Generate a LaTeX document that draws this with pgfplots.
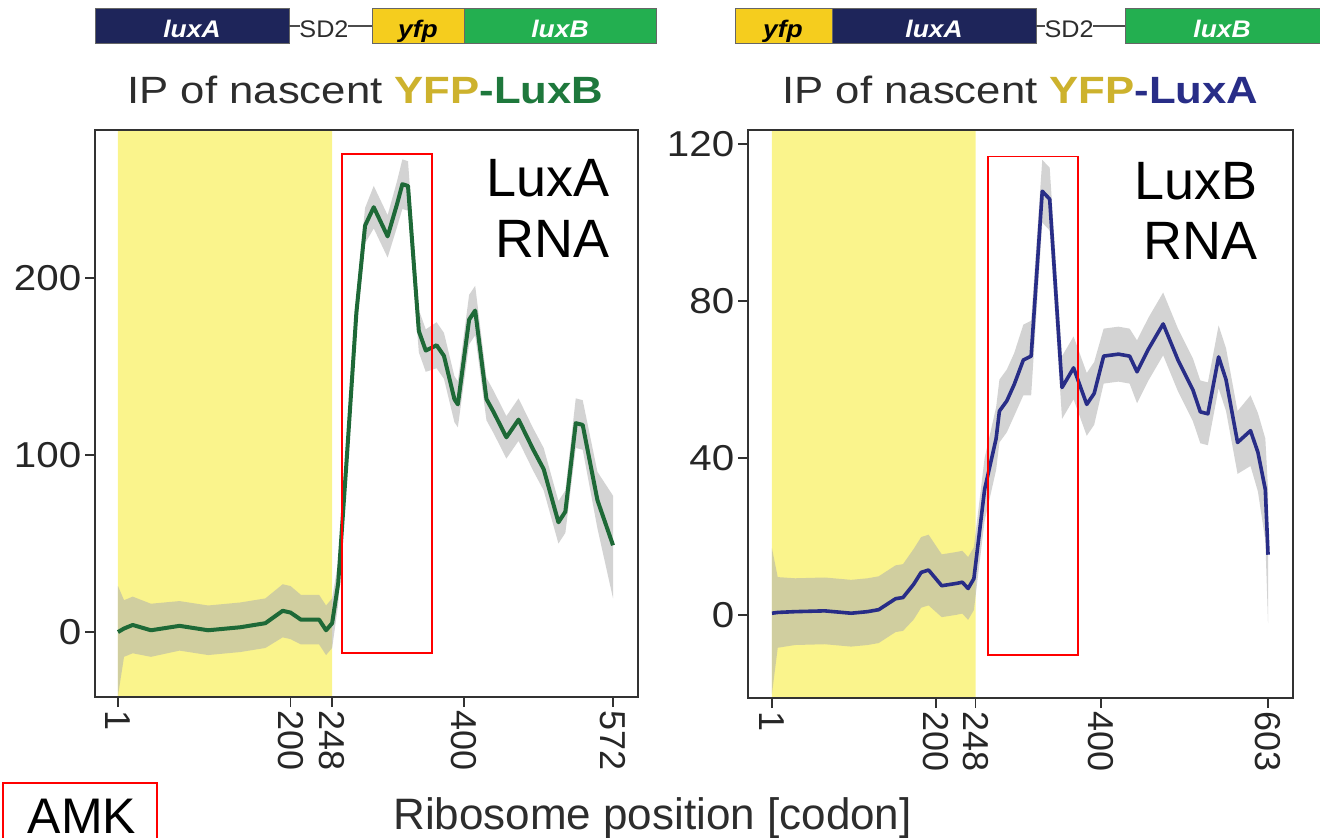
\documentclass[border=0pt]{standalone}
\usepackage{fontspec}
\setmainfont{Liberation Sans}
\usepackage{pgfplots}
\pgfplotsset{compat=1.18}
\usepackage{pgfplotstable}
\usepgfplotslibrary{fillbetween}

\definecolor{yellowbg}{RGB}{250,244,140}
\definecolor{bandgray}{RGB}{175,175,175}
\definecolor{lgreen}{RGB}{30,105,55}
\definecolor{lblue}{RGB}{40,45,135}
\definecolor{navybox}{RGB}{30,37,90}
\definecolor{yfpbox}{RGB}{245,205,30}
\definecolor{greenbox}{RGB}{35,175,80}
\definecolor{yfpgold}{RGB}{205,178,45}
\definecolor{titlegreen}{RGB}{30,120,60}
\definecolor{titleblue}{RGB}{40,45,135}
\definecolor{titlegray}{RGB}{45,45,45}
\definecolor{axisgray}{RGB}{50,50,50}

\pgfplotstableread{
x y lo hi
1 0 -36 26
8 2 -14 18
18 4 -12 20
39 1 -14 16
72 3.5 -10.5 17.5
105 1 -13 15
142 2.7 -11.3 16.7
171 5 -9 19
191 12 -3 27
200 11 -4 26
212 7 -7 21
233 7 -7 21
241 1 -13 15
248 5 -9 19
255 27.5 15.5 39.5
265 99 89 109
276 180.6 170.6 190.6
286 229.6 219.6 239.6
296 240 228 252
312 223.5 211.5 235.5
323 242 229 255
329 253 239 267
335.5 252 238 266
348 170 158 182
356 159 147 171
368.5 162 149 175
377 156 143 169
389 131.6 118.6 144.6
393 128.6 115.6 141.6
406 176.5 162.5 190.5
413 181.6 167.6 195.6
426 131.6 119.6 143.6
434 124.5 112.5 136.5
449 110 98 122
463 120 108 132
480 103 91 115
492 92 80 104
509 62 50 74
517 68 56 80
529 118 104 132
537 117 103 131
554 74.5 58.5 90.5
572 49 19 77
}\dataA

\pgfplotstableread{
x y lo hi
1 0.5 -20 17
8 0.7 -8.3 9.7
29 0.9 -7.6 9.4
65 1.1 -7.4 9.6
97 0.5 -8 9
117 0.9 -7.6 9.4
130.5 1.4 -7.1 9.9
151 4.2 -4.3 12.7
160 4.5 -4 13
173 7.9 -1.1 16.9
182 10.9 1.9 19.9
191 11.5 2.5 20.5
207 7.5 -0.5 15.5
225 8.1 0.1 16.1
232 8.4 0.4 16.4
239 6.8 -1.2 14.8
246 9.3 1.3 17.3
259 32 24 40
273 45 37 53
277 52 44 60
286 54.6 46.6 62.6
295 58.8 50.8 66.8
306 65 56 74
315.5 66 56 75
329 108 100 116
338 106 98 114
353 58 50 66
367 63 55 71
383 53.7 45.7 61.7
392 56.5 48.5 64.5
403.5 66 59 73
421.5 66.5 59.5 73.5
435 66 59 73
444 62 54 70
457.6 67.7 59.7 75.7
475.7 74.2 66.2 82.2
493.7 65 57 73
511.8 57.4 49.4 65.4
520.8 51.8 43.8 59.8
530 51.3 43.3 59.3
543 65.8 57.8 73.8
552 60 52 68
566 44 36 52
581.7 47 38 56
590.7 41.5 31.5 51.5
599.7 32 19 45
603 15.4 -2 32
}\dataB

\pgfplotsset{
  luxstyle/.style={
    anchor=south west, scale only axis, set layers,
    tick pos=left, tick align=outside, major tick length=5pt,
    axis line style={axisgray, line width=0.8pt},
    tick style={axisgray, line width=0.8pt},
    ticklabel style={font=\fontsize{18}{18}\selectfont, text=black!85, inner sep=1.5pt},
    /pgf/number format/assume math mode=true,
    xticklabel style={rotate=-90, anchor=west},
    yticklabel style={xscale=1.12},
    axis on top=true,
  }
}

\begin{document}
\begin{tikzpicture}
% ---------- left panel ----------
\begin{axis}[luxstyle, at={(47.5pt,70pt)}, width=271.5pt, height=283.5pt,
  xmin=-25.5, xmax=600.8, ymin=-36.7, ymax=283.6,
  xtick={1,200,248,400,572}, ytick={0,100,200}]
  \addplot[fill=yellowbg, draw=none, on layer=axis background, forget plot]
    coordinates {(1,-36.7) (248,-36.7) (248,283.6) (1,283.6) (1,-36.7)};
  \addplot[name path=hiA, draw=none, forget plot] table[x=x,y=hi]{\dataA};
  \addplot[name path=loA, draw=none, forget plot] table[x=x,y=lo]{\dataA};
  \addplot[bandgray, fill opacity=0.55, draw=none] fill between[of=hiA and loA];
  \addplot[lgreen, line width=2pt, line join=round] table[x=x,y=y]{\dataA};
  \draw[red, line width=0.8pt] (axis cs:259.4,270) rectangle (axis cs:363.2,-11.9);
\end{axis}
% ---------- right panel ----------
\begin{axis}[luxstyle, at={(374pt,69.5pt)}, width=272.5pt, height=284pt,
  xmin=-28.1, xmax=633.3, ymin=-21.1, ymax=123.6,
  xtick={1,200,248,400,603}, ytick={0,40,80,120}]
  \addplot[fill=yellowbg, draw=none, on layer=axis background, forget plot]
    coordinates {(1,-21.1) (248,-21.1) (248,123.6) (1,123.6) (1,-21.1)};
  \addplot[name path=hiB, draw=none, forget plot] table[x=x,y=hi]{\dataB};
  \addplot[name path=loB, draw=none, forget plot] table[x=x,y=lo]{\dataB};
  \addplot[bandgray, fill opacity=0.55, draw=none] fill between[of=hiB and loB];
  \addplot[lblue, line width=1.8pt, line join=round] table[x=x,y=y]{\dataB};
  \draw[red, line width=0.8pt] (axis cs:263.2,116.9) rectangle (axis cs:372.4,-10.2);
\end{axis}

% ---------- annotations in image pixel coordinates ----------
\begin{scope}[x=0.5pt, y=-0.5pt, yshift=418.5pt]
  % gene diagram left
  \draw[fill=navybox, draw=black!60, line width=0.4pt] (95,8) rectangle (289,43);
  \draw[fill=yfpbox, draw=black!60, line width=0.4pt] (372,8) rectangle (464,43);
  \draw[fill=greenbox, draw=black!60, line width=0.4pt] (464,8) rectangle (656,43);
  \draw[black!70, line width=0.6pt] (289,26) -- (300,26) (348,26) -- (372,26);
  \node[anchor=base, text=white, font=\fontsize{12}{12}\selectfont\bfseries\itshape, xscale=1.1] at (192,38) {luxA};
  \node[anchor=base, text=black, font=\fontsize{12}{12}\selectfont\bfseries\itshape, xscale=1.1] at (418,38) {yfp};
  \node[anchor=base, text=white, font=\fontsize{12}{12}\selectfont\bfseries\itshape, xscale=1.1] at (560,38) {luxB};
  \node[anchor=base, text=titlegray, font=\fontsize{12}{12}\selectfont, xscale=1.05] at (324,38) {SD2};
  % gene diagram right
  \draw[fill=yfpbox, draw=black!60, line width=0.4pt] (735,8) rectangle (832,43);
  \draw[fill=navybox, draw=black!60, line width=0.4pt] (832,8) rectangle (1036,43);
  \draw[fill=greenbox, draw=black!60, line width=0.4pt] (1125,8) rectangle (1330,43);
  \draw[black!70, line width=0.6pt] (1036,26) -- (1045,26) (1093,26) -- (1125,26);
  \node[anchor=base, text=black, font=\fontsize{12}{12}\selectfont\bfseries\itshape, xscale=1.1] at (783,38) {yfp};
  \node[anchor=base, text=white, font=\fontsize{12}{12}\selectfont\bfseries\itshape, xscale=1.1] at (934,38) {luxA};
  \node[anchor=base, text=white, font=\fontsize{12}{12}\selectfont\bfseries\itshape, xscale=1.1] at (1222,38) {luxB};
  \node[anchor=base, text=titlegray, font=\fontsize{12}{12}\selectfont, xscale=1.05] at (1069,38) {SD2};
  % titles
  \node[anchor=base, font=\fontsize{19}{19}\selectfont, xscale=1.15, inner sep=0pt] at (365.5,104)
    {\textcolor{titlegray}{IP of nascent }\textbf{\textcolor{yfpgold}{YFP}}\textbf{\textcolor{titlegreen}{-LuxB}}};
  \node[anchor=base, font=\fontsize{19}{19}\selectfont, xscale=1.15, inner sep=0pt] at (1020.5,104)
    {\textcolor{titlegray}{IP of nascent }\textbf{\textcolor{yfpgold}{YFP}}\textbf{\textcolor{titleblue}{-LuxA}}};
  % RNA labels
  \node[anchor=base east, font=\fontsize{27}{27}\selectfont, inner sep=0pt] at (610,197) {LuxA};
  \node[anchor=base east, font=\fontsize{27}{27}\selectfont, inner sep=0pt] at (610,257) {RNA};
  \node[anchor=base east, font=\fontsize{27}{27}\selectfont, inner sep=0pt] at (1258,199) {LuxB};
  \node[anchor=base east, font=\fontsize{27}{27}\selectfont, inner sep=0pt] at (1258,259) {RNA};
  % x axis label
  \node[anchor=base, font=\fontsize{22}{22}\selectfont, text=titlegray, inner sep=0pt] at (652.5,829) {Ribosome position [codon]};
  % AMK box
  \draw[red, line width=0.8pt] (3,783) rectangle (157,860);
  \node[anchor=base, font=\fontsize{25}{25}\selectfont, inner sep=0pt] at (82,833) {AMK};
\end{scope}
\pgfresetboundingbox
\path[use as bounding box] (0,0) rectangle (660pt,418.5pt);
\end{tikzpicture}
\end{document}
